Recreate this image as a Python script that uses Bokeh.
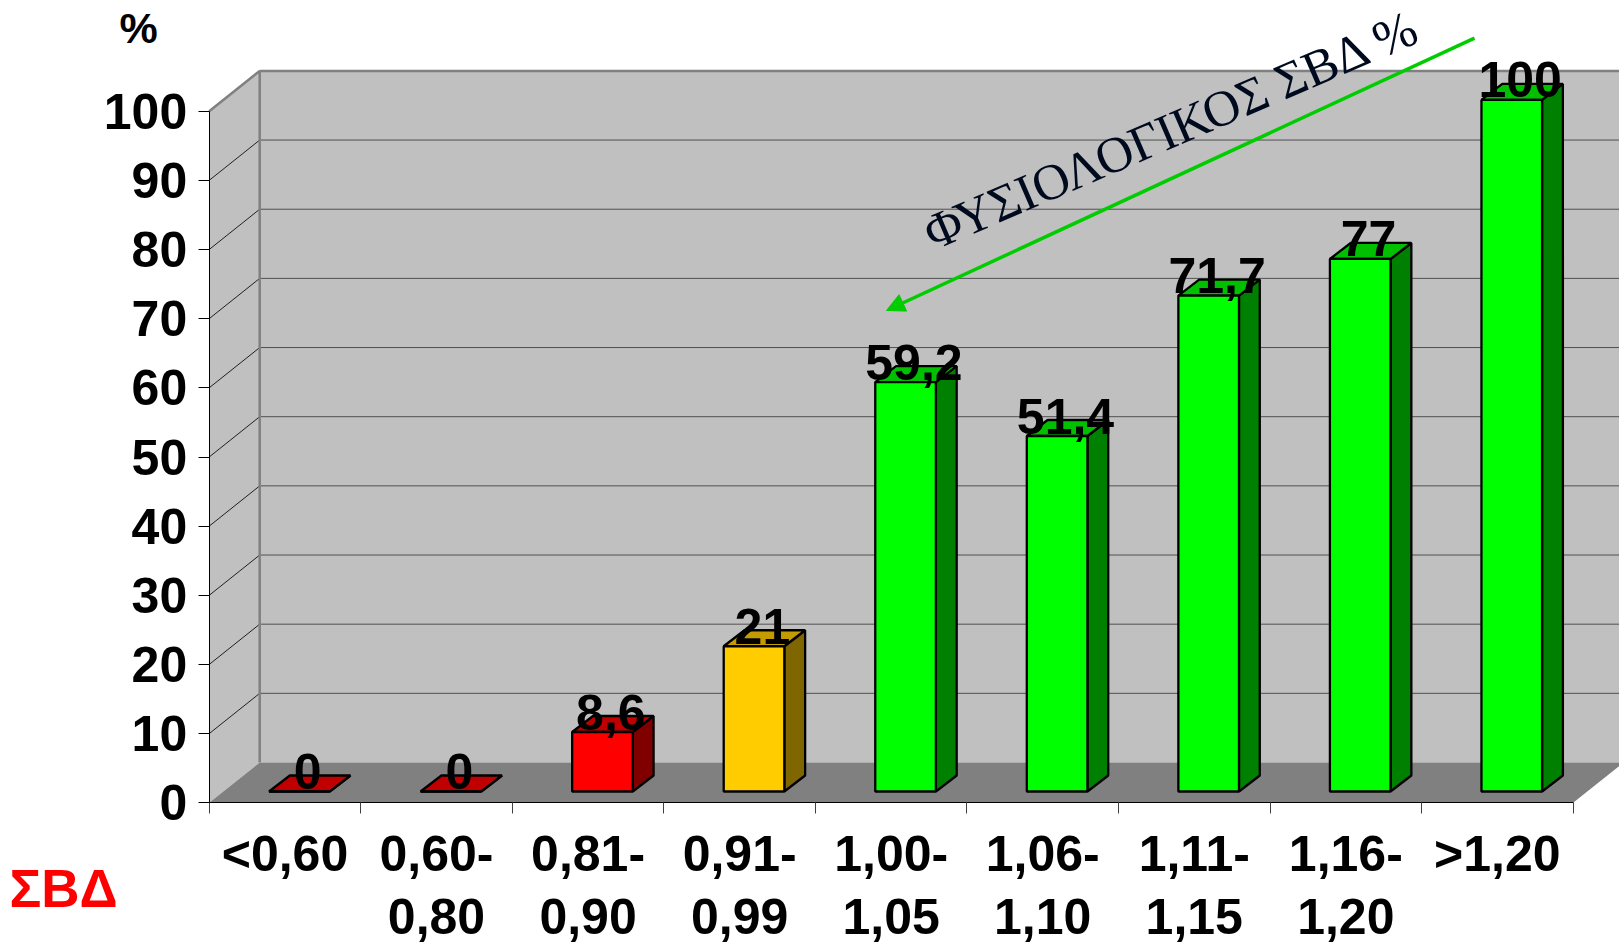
from bokeh.plotting import figure
from bokeh.models import Range1d, FixedTicker, Label, Arrow, NormalHead
from bokeh.core.properties import value
from bokeh.embed import file_html
from bokeh.resources import INLINE

categories = ["<0,60", "0,60-\n0,80", "0,81-\n0,90", "0,91-\n0,99", "1,00-\n1,05",
              "1,06-\n1,10", "1,11-\n1,15", "1,16-\n1,20", ">1,20"]
values = [0, 0, 8.6, 21, 59.2, 51.4, 71.7, 77, 100]
front_colors = ["#FF0000", "#FF0000", "#FF0000", "#FFCC00", "#00FF00", "#00FF00", "#00FF00", "#00FF00", "#00FF00"]
top_colors = ["#C00000", "#C00000", "#C00000", "#C49C00", "#00C000", "#00C000", "#00C000", "#00C000", "#00C000"]
side_colors = ["#800000", "#800000", "#800000", "#806600", "#008000", "#008000", "#008000", "#008000", "#008000"]
value_labels = ["0", "0", "8,6", "21", "59,2", "51,4", "71,7", "77", "100"]
y_ticks = list(range(0, 101, 10))

W, H = 1619, 944
LEFT, AXIS_Y = 208.7, 802.3
PX_X = 151.55          # px per category
PX_Y = 6.916           # px per percent
X_START, X_END = -LEFT / PX_X, (W - LEFT) / PX_X
Y_START, Y_END = (AXIS_Y - H) / PX_Y, AXIS_Y / PX_Y
WALL_DX, WALL_DY = 50.5 / PX_X, 40.3 / PX_Y
BAR_DX, BAR_DY = 20.8 / PX_X, 16.0 / PX_Y
BAR_LEFT, BAR_W = 0.395, 0.400
BASE = 11.3 / PX_Y
FONT = value("Liberation Sans")

p = figure(width=W, height=H, x_range=Range1d(X_START, X_END), y_range=Range1d(Y_START, Y_END),
           output_backend="svg", toolbar_location=None, min_border_left=0, min_border_bottom=0,
           min_border_top=0, min_border_right=0, outline_line_color=None, background_fill_color="white")
p.grid.visible = False

# walls and floor
p.patch([0, WALL_DX, WALL_DX, 0], [0, WALL_DY, 100 + WALL_DY, 100], fill_color="#C0C0C0", line_color=None)
p.quad(left=[WALL_DX], right=[X_END], bottom=[WALL_DY], top=[100 + WALL_DY], fill_color="#C0C0C0", line_color=None)
p.patch([0, 9, 9 + WALL_DX, WALL_DX], [0, 0, WALL_DY, WALL_DY], fill_color="#808080", line_color=None)

# gridlines
for v in y_ticks[1:-1]:
    p.line([0, WALL_DX], [v, v + WALL_DY], line_color="#202020", line_width=1)
    p.line([WALL_DX, X_END], [v + WALL_DY, v + WALL_DY], line_color="#505050", line_width=1)
p.line([0, WALL_DX, WALL_DX], [100, 100 + WALL_DY, WALL_DY], line_color="#808080", line_width=2.5)
p.line([WALL_DX, X_END], [100 + WALL_DY, 100 + WALL_DY], line_color="#808080", line_width=2.5)

# bars
for i, v in enumerate(values):
    l = i + BAR_LEFT
    r = l + BAR_W
    b = BASE
    t = BASE + v
    p.patch([r, r + BAR_DX, r + BAR_DX, r], [b, b + BAR_DY, t + BAR_DY, t], fill_color=side_colors[i],
            line_color="black", line_width=2.3)
    p.patch([l, r, r + BAR_DX, l + BAR_DX], [t, t, t + BAR_DY, t + BAR_DY], fill_color=top_colors[i],
            line_color="black", line_width=2.3)
    p.quad(left=[l], right=[r], bottom=[b], top=[t], fill_color=front_colors[i], line_color="black", line_width=2.3)

# data labels
p.text(x=[i + BAR_LEFT + (BAR_W + BAR_DX) / 2 for i in range(9)], y=[BASE + v for v in values], text=value_labels,
       text_font=FONT, text_font_style="bold", text_font_size="50px", text_align="center",
       text_baseline="alphabetic", text_color="black", x_offset=-2, y_offset=-20)

# axes
ya = p.yaxis[0]
ya.fixed_location = 0
ya.ticker = FixedTicker(ticks=y_ticks)
ya.bounds = (0, 100)
ya.major_tick_out = 11
ya.major_tick_in = 0
ya.minor_tick_line_color = None
ya.major_tick_line_color = "black"
ya.axis_line_color = "black"
ya.major_label_standoff = 11
ya.major_label_text_font = "Liberation Sans"
ya.major_label_text_font_style = "bold"
ya.major_label_text_font_size = "50px"
ya.major_label_text_color = "black"

xa = p.xaxis[0]
xa.fixed_location = 0
xa.ticker = FixedTicker(ticks=[i + 0.5 for i in range(9)], minor_ticks=list(range(10)))
xa.bounds = (0, 9)
xa.major_tick_line_color = None
xa.major_tick_out = 0
xa.major_tick_in = 0
xa.minor_tick_out = 11
xa.minor_tick_in = 0
xa.minor_tick_line_color = "#404040"
xa.axis_line_color = "black"
xa.major_label_overrides = {i + 0.5: c for i, c in enumerate(categories)}
xa.major_label_standoff = 12
xa.major_label_text_font = "Liberation Sans"
xa.major_label_text_font_style = "bold"
xa.major_label_text_font_size = "50px"
xa.major_label_text_color = "black"
xa.major_label_text_line_height = 1.13
xa.major_label_orientation = "horizontal"


def dx(px):
    return (px - LEFT) / PX_X


def dy(py):
    return (AXIS_Y - py) / PX_Y


# annotation arrow and texts
p.add_layout(Arrow(end=NormalHead(size=18, fill_color="#00CC00", line_color="#00CC00"),
                   x_start=dx(1474), y_start=dy(37.7), x_end=dx(886), y_end=dy(310),
                   line_color="#00CC00", line_width=3.5))
p.add_layout(Label(x=dx(926), y=dy(235), text="ΦΥΣΙΟΛΟΓΙΚΟΣ ΣΒΔ %", angle=23.3, angle_units="deg",
                   text_font="Liberation Serif", text_font_size="51px", text_color="#000A1E",
                   text_align="left", text_baseline="alphabetic"))
p.add_layout(Label(x=dx(9), y=dy(888), text="ΣΒΔ", text_font="Liberation Sans", text_font_style="bold",
                   text_font_size="53px", text_color="#FF0000", text_align="left", text_baseline="alphabetic"))
p.add_layout(Label(x=dx(119), y=dy(27.4), text="%", text_font="Liberation Sans", text_font_style="bold",
                   text_font_size="43px", text_color="black", text_align="left", text_baseline="alphabetic"))

open("out.html", "w").write(file_html(p, INLINE))
